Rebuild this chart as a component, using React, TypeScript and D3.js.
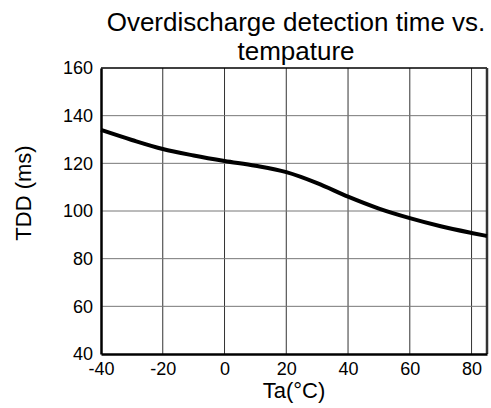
import * as d3 from "d3";
import { useEffect, useRef } from "react";

const temps = [-40, -30, -20, -10, 0, 10, 20, 30, 40, 50, 60, 70, 80, 85];
const tdd = [134, 129.8, 126, 123.3, 121, 119, 116.3, 111.7, 106, 101, 97, 93.6, 90.8, 89.5];
const xTicks = [-40, -20, 0, 20, 40, 60, 80];
const yTicks = [40, 60, 80, 100, 120, 140, 160];

const App = () => {
  const ref = useRef<SVGSVGElement | null>(null);

  useEffect(() => {
    if (!ref.current) return;
    const svg = d3.select(ref.current);
    svg.selectAll("*").remove();

    const margin = { top: 68, right: 4, bottom: 54, left: 101 };
    const W = 491;
    const H = 408;
    const width = W - margin.left - margin.right;
    const height = H - margin.top - margin.bottom;
    const font = "Liberation Sans, Arial, sans-serif";

    const x = d3.scaleLinear().domain([-40, 85]).range([0, width]);
    const y = d3.scaleLinear().domain([40, 160]).range([height, 0]);

    const g = svg.append("g").attr("transform", `translate(${margin.left},${margin.top})`);

    // 격자
    g.append("g")
      .selectAll("line")
      .data(xTicks.slice(1))
      .join("line")
      .attr("x1", (d) => x(d))
      .attr("x2", (d) => x(d))
      .attr("y1", 0)
      .attr("y2", height)
      .attr("stroke", "#333")
      .attr("stroke-width", 1);
    g.append("g")
      .selectAll("line")
      .data(yTicks.slice(1, -1))
      .join("line")
      .attr("x1", 0)
      .attr("x2", width)
      .attr("y1", (d) => y(d))
      .attr("y2", (d) => y(d))
      .attr("stroke", "#777")
      .attr("stroke-width", 1);

    // 위/오른쪽 테두리
    g.append("line").attr("x1", 0).attr("x2", width).attr("y1", 0).attr("y2", 0).attr("stroke", "#000").attr("stroke-width", 1.5);
    g.append("line").attr("x1", width).attr("x2", width).attr("y1", 0).attr("y2", height).attr("stroke", "#333").attr("stroke-width", 2.5);

    // 곡선
    const line = d3
      .line<number>()
      .x((_, i) => x(temps[i]))
      .y((d) => y(d))
      .curve(d3.curveMonotoneX);
    g.append("path")
      .datum(tdd)
      .attr("d", line)
      .attr("fill", "none")
      .attr("stroke", "#000")
      .attr("stroke-width", 4);

    // 축
    const xAxis = g
      .append("g")
      .attr("transform", `translate(0,${height})`)
      .call(
        d3
          .axisBottom(x)
          .tickValues(xTicks)
          .tickSize(0)
          .tickPadding(8)
          .tickFormat((d) => String(d))
      );
    xAxis.select(".domain").attr("stroke", "#000").attr("stroke-width", 2.5);
    xAxis.selectAll("text").style("font-family", font).style("font-size", "18px").attr("fill", "#000");

    const yAxis = g
      .append("g")
      .call(d3.axisLeft(y).tickValues(yTicks).tickSize(0).tickPadding(8).tickFormat((d) => String(d)));
    yAxis.select(".domain").attr("stroke", "#000").attr("stroke-width", 2.5);
    yAxis.selectAll("text").style("font-family", font).style("font-size", "18px").attr("fill", "#000");

    // 제목
    const cx = 296;
    const title = svg
      .append("text")
      .attr("text-anchor", "middle")
      .style("font-family", font)
      .style("font-size", "26px")
      .attr("fill", "#000");
    title.append("tspan").attr("x", cx).attr("y", 31).text("Overdischarge detection time vs.");
    title.append("tspan").attr("x", cx).attr("y", 60).text("tempature");

    svg
      .append("text")
      .attr("x", margin.left + width / 2)
      .attr("y", 398)
      .attr("text-anchor", "middle")
      .style("font-family", font)
      .style("font-size", "22px")
      .text("Ta(°C)");

    svg
      .append("text")
      .attr("transform", `translate(31,193) rotate(-90)`)
      .attr("text-anchor", "middle")
      .style("font-family", font)
      .style("font-size", "22px")
      .text("TDD (ms)");
  }, []);

  return (
    <svg
      ref={ref}
      width={491}
      height={408}
      style={{ position: "absolute", left: 0, top: 0, background: "#fff" }}
    />
  );
};

export default App;
